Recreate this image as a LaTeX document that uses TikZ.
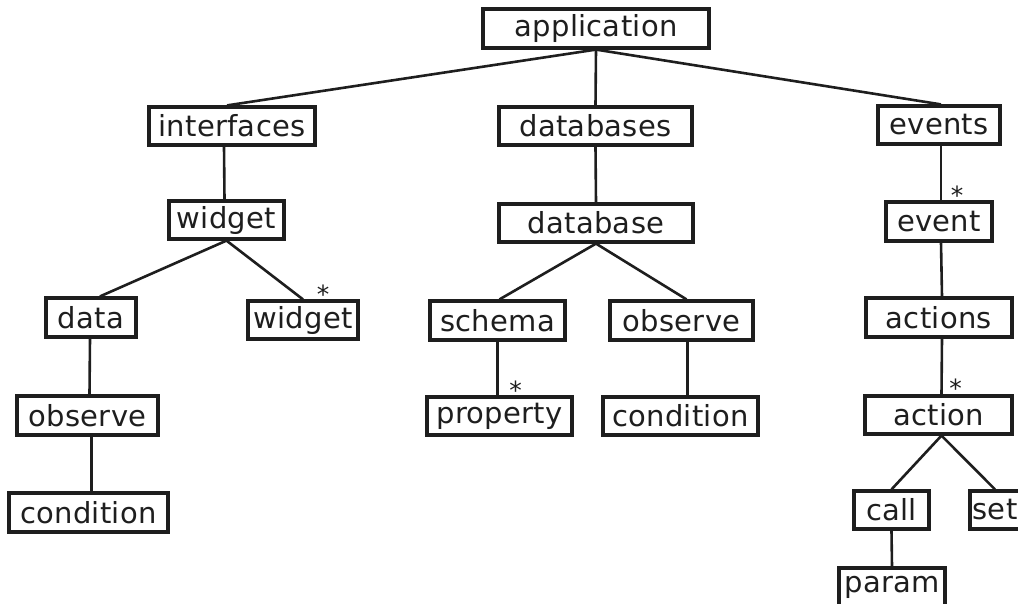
\documentclass[tikz,border=0pt]{standalone}
\usepackage{fontspec}
\setmainfont{DejaVu Sans}[LetterSpace=1]
\definecolor{ink}{HTML}{1E1E1E}
% asterisk lowered onto the baseline, boxed tightly around its ink
\newcommand\multmark{\raisebox{-0.4em}[0.37em][0pt]{*}}
\begin{document}
\begin{tikzpicture}[x=1pt,y=-1pt,
  box/.style={draw=ink, line width=3.2pt, inner sep=0pt, text=ink,
    font=\fontsize{29}{33}\selectfont},
  link/.style={draw=ink, line width=2.6pt},
  ast/.style={inner sep=0pt, anchor=south, text=ink, font=\fontsize{25}{25}\selectfont}]
\useasboundingbox (0,0) rectangle (1018,604);
\clip (0,0) rectangle (1018,604);

% level 0
\node[box, minimum width=226pt, minimum height=39pt] (app) at (596,28.5) {application};
% level 1
\node[box, minimum width=166pt, minimum height=38pt] (ifc) at (232,126) {interfaces};
\node[box, minimum width=193pt, minimum height=38pt] (dbs) at (595.5,126) {databases};
\node[box, minimum width=122pt, minimum height=38pt] (evs) at (939,125) {events};
% level 2
\node[box, minimum width=115pt, minimum height=38pt] (wg1) at (226.5,220) {widget};
\node[box, minimum width=194pt, minimum height=38pt] (db) at (596,223) {database};
\node[box, minimum width=106pt, minimum height=39pt] (ev) at (939,221.5) {event};
% level 3
\node[box, minimum width=90pt, minimum height=39pt] (data) at (91,317.5) {data};
\node[box, minimum width=110pt, minimum height=38pt] (wg2) at (303,320) {widget};
\node[box, minimum width=135pt, minimum height=39pt] (sch) at (497.5,320.5) {schema};
\node[box, minimum width=143pt, minimum height=39pt] (obd) at (681.5,320.5) {observe};
\node[box, minimum width=146pt, minimum height=39pt] (acts) at (939,317.5) {actions};
% level 4
\node[box, minimum width=141pt, minimum height=39pt] (obl) at (87.5,415.5) {observe};
\node[box, minimum width=145pt, minimum height=38pt] (prop) at (499.5,416) {property};
\node[box, minimum width=155pt, minimum height=38pt] (cnd) at (680.5,416) {condition};
\node[box, minimum width=147pt, minimum height=38pt] (act) at (938.5,415) {action};
% level 5
\node[box, minimum width=159pt, minimum height=39pt] (cnl) at (88.5,512.5) {condition};
\node[box, minimum width=75pt, minimum height=38pt] (call) at (891.5,510) {call};
\node[box, minimum width=50pt, minimum height=38pt] (set) at (995,510) {set};
% level 6
\node[box, minimum width=106pt, minimum height=38pt] (param) at (892,587) {param};

% tree edges
\draw[link] (app.south) -- ([xshift=-5]ifc.north);
\draw[link] (app.south) -- (dbs.north);
\draw[link] (app.south) -- ([xshift=2]evs.north);
\draw[link] ([xshift=-8]ifc.south) -- ([xshift=-2]wg1.north);
\draw[link] (dbs.south) -- (db.north);
\draw[link] ([xshift=2]evs.south) -- ([xshift=2]ev.north);
\draw[link] (wg1.south) -- ([xshift=9]data.north);
\draw[link] (wg1.south) -- (wg2.north);
\draw[link] (db.south) -- ([xshift=2]sch.north);
\draw[link] (db.south) -- ([xshift=5]obd.north);
\draw[link] ([xshift=2]ev.south) -- ([xshift=3]acts.north);
\draw[link] ([xshift=-1]data.south) -- ([xshift=2]obl.north);
\draw[link] ([xshift=4]obl.south) -- ([xshift=3]cnl.north);
\draw[link] (sch.south) -- ([xshift=-2]prop.north);
\draw[link] ([xshift=6]obd.south) -- ([xshift=7]cnd.north);
\draw[link] ([xshift=3]acts.south) -- ([xshift=3]act.north);
\draw[link] ([xshift=3]act.south) -- (call.north);
\draw[link] ([xshift=3]act.south) -- (set.north);
\draw[link] (call.south) -- (param.north);

% multiplicity marks
\node[ast] (m1) at ([shift={(20,-6)}]wg2.north) {\multmark};
\node[ast] (m2) at ([shift={(18,-6)}]ev.north) {\multmark};
\node[ast] (m3) at ([shift={(16,-6)}]prop.north) {\multmark};
\node[ast] (m4) at ([shift={(17,-7)}]act.north) {\multmark};
\end{tikzpicture}
\end{document}
